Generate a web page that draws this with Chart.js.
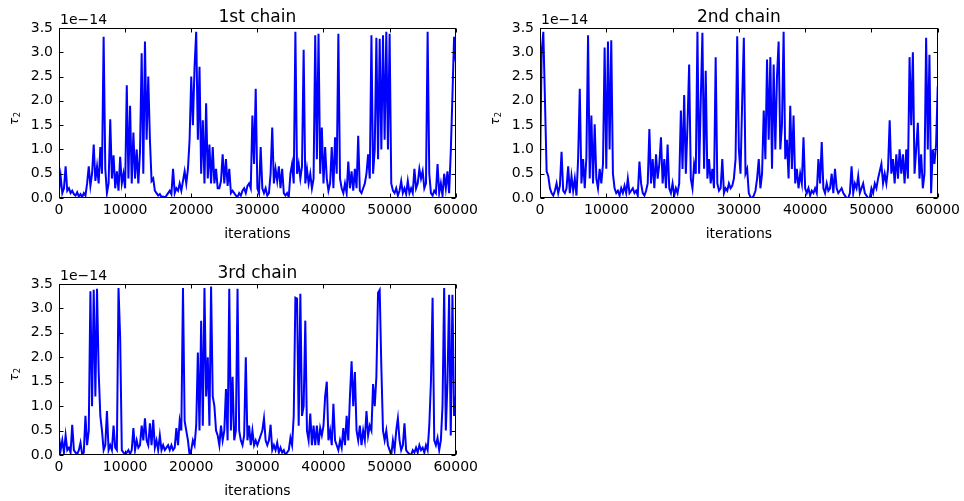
<!DOCTYPE html>
<html>
<head>
<meta charset="utf-8">
<script src="https://cdn.jsdelivr.net/npm/chart.js@4"></script>
<style>
  html, body { margin: 0; padding: 0; background: #fff; }
  #fig { position: relative; width: 964px; height: 501px; overflow: hidden; }
  #fig canvas { position: absolute; }
</style>
</head>
<body>
<div id="fig">
  <canvas id="c1" width="482" height="250" style="left:0;top:0"></canvas>
  <canvas id="c2" width="482" height="250" style="left:482px;top:0"></canvas>
  <canvas id="c3" width="482" height="251" style="left:0;top:250px"></canvas>
</div>
<script>
// Trace of tau_2 (in units of 1e-14), one sample every STEP iterations.
const STEP = 250;

const chain1 = [
  0.15, 0.45, 0.10, 0.20,  0.65, 0.15, 0.20, 0.10,  0.15, 0.08, 0.05, 0.12,
  0.03, 0.08, 0.02, 0.10,  0.05, 0.30, 0.65, 0.25,  0.50, 1.10, 0.35, 0.65,
  0.30, 1.05, 0.50, 3.32,  0.60, 0.10, 0.30, 1.62,  0.40, 0.88, 0.20, 0.55,
  0.15, 0.85, 0.30, 0.50,  0.20, 2.32, 0.40, 1.90,  0.30, 1.35, 0.40, 1.00,
  0.30, 0.95, 2.98, 0.50,  3.22, 1.20, 2.50, 1.20,  0.35, 0.40, 0.15, 0.10,
  0.05, 0.08, 0.02, 0.03,  0.01, 0.05, 0.10, 0.15,  0.08, 0.60, 0.10, 0.20,
  0.15, 0.30, 0.15, 0.35,  0.55, 0.30, 0.60, 1.20,  2.50, 1.50, 2.70, 3.42,
  1.20, 2.70, 0.50, 1.60,  0.30, 1.95, 0.40, 1.10,  0.30, 1.05, 0.30, 0.60,
  0.20, 0.20, 0.35, 0.90,  0.30, 0.80, 0.25, 0.60,  0.10, 0.15, 0.10, 0.05,
  0.02, 0.10, 0.05, 0.15,  0.20, 0.10, 0.25, 0.30,  0.20, 1.70, 0.70, 2.25,
  0.20, 0.10, 1.05, 0.20,  0.10, 0.20, 0.05, 0.10,  0.50, 1.45, 0.30, 0.60,
  0.35, 0.65, 0.20, 0.60,  0.10, 0.05, 0.10, 0.02,  0.50, 0.70, 0.30, 3.42,
  0.50, 0.70, 0.40, 0.65,  3.05, 0.30, 0.60, 0.30,  0.50, 0.20, 0.40, 3.35,
  0.80, 3.38, 0.50, 1.45,  0.30, 1.05, 0.40, 0.15,  0.30, 1.05, 0.20, 1.25,
  0.50, 3.38, 0.40, 0.20,  0.10, 0.30, 0.10, 0.75,  0.20, 0.55, 0.15, 0.60,
  0.20, 1.28, 0.15, 0.10,  0.20, 0.30, 0.50, 0.90,  0.40, 3.35, 0.50, 1.00,
  3.30, 0.80, 3.28, 1.00,  3.35, 1.20, 3.42, 1.00,  3.38, 0.30, 0.15, 0.10,
  0.20, 0.05, 0.15, 0.35,  0.10, 0.20, 0.08, 0.35,  0.10, 0.20, 0.10, 0.60,
  0.20, 0.30, 0.60, 0.40,  0.55, 0.20, 0.30, 3.42,  0.50, 0.10, 0.05, 0.15,
  0.10, 0.70, 0.10, 0.30,  0.05, 0.50, 0.20, 0.55,  0.10, 0.95, 2.10, 3.32,
  2.80
];

const chain2 = [
  0.50, 3.00, 3.42, 2.00,  0.55, 0.45, 0.20, 0.10,  0.05, 0.15, 0.30, 0.10,
  0.25, 0.95, 0.15, 0.10,  0.20, 0.65, 0.10, 0.45,  0.15, 0.40, 0.05, 0.80,
  2.25, 0.30, 0.80, 0.20,  0.85, 3.35, 0.40, 1.70,  0.30, 1.52, 0.40, 0.20,
  0.60, 0.30, 0.70, 3.10,  0.60, 3.22, 1.00, 3.25,  0.50, 0.20, 0.10, 0.15,
  0.05, 0.20, 0.10, 0.25,  0.10, 0.40, 0.10, 0.15,  0.20, 0.10, 0.15, 0.05,
  0.75, 0.30, 0.10, 0.05,  0.15, 0.30, 1.42, 0.30,  0.80, 0.20, 0.90, 0.40,
  0.70, 1.25, 0.30, 0.80,  0.20, 1.10, 0.20, 0.10,  0.30, 0.05, 0.20, 0.10,
  0.30, 1.80, 0.60, 2.12,  0.50, 1.50, 2.75, 0.40,  0.20, 0.70, 0.50, 3.42,
  0.50, 2.00, 3.40, 0.60,  2.62, 0.40, 0.80, 0.30,  0.60, 0.20, 2.90, 0.30,
  0.15, 0.20, 0.80, 0.10,  0.20, 0.15, 0.30, 0.20,  0.25, 0.40, 0.80, 3.33,
  1.00, 0.50, 2.00, 3.30,  0.50, 0.60, 0.10, 0.02,  0.00, 0.05, 0.15, 0.40,
  0.80, 0.20, 0.50, 1.80,  0.80, 2.85, 1.20, 2.90,  0.60, 2.75, 1.00, 2.50,
  3.22, 1.00, 1.50, 3.42,  0.80, 1.20, 0.40, 1.90,  0.60, 1.70, 0.30, 0.60,
  0.20, 0.50, 0.30, 1.25,  0.20, 0.10, 0.20, 0.05,  0.15, 0.10, 0.20, 0.10,
  0.80, 0.30, 1.15, 0.20,  0.10, 0.30, 0.15, 0.20,  0.50, 0.10, 0.60, 0.20,
  0.10, 0.15, 0.20, 0.10,  0.05, 0.00, 0.00, 0.10,  0.65, 0.10, 0.30, 0.20,
  0.45, 0.10, 0.20, 0.30,  0.10, 0.05, 0.00, 0.00,  0.20, 0.10, 0.30, 0.20,
  0.40, 0.55, 0.70, 0.30,  0.50, 0.30, 0.60, 1.60,  0.50, 0.80, 0.30, 0.90,
  0.40, 1.00, 0.50, 0.90,  0.30, 1.00, 0.40, 2.90,  1.50, 3.00, 0.50, 1.00,
  1.55, 0.40, 0.90, 0.20,  0.50, 3.30, 1.00, 2.95,  0.10, 1.00, 0.70, 1.10,
  2.30
];

const chain3 = [
  0.38, 0.10, 0.30, 0.05,  0.40, 0.10, 0.15, 0.05,  0.62, 0.10, 0.05, 0.02,
  0.10, 0.25, 0.02, 0.05,  0.80, 0.20, 0.50, 3.35,  1.00, 3.38, 1.20, 3.40,
  1.70, 0.80, 0.50, 0.10,  0.20, 0.90, 0.10, 0.20,  0.10, 0.60, 0.15, 0.10,
  3.42, 2.40, 0.10, 0.05,  0.02, 0.05, 0.10, 0.02,  0.10, 0.55, 0.10, 0.30,
  0.15, 0.20, 0.60, 0.30,  0.75, 0.30, 0.20, 0.65,  0.20, 0.72, 0.15, 0.30,
  0.10, 0.40, 0.10, 0.20,  0.10, 0.15, 0.20, 0.10,  0.20, 0.10, 0.15, 0.55,
  0.20, 0.70, 0.50, 3.42,  0.70, 0.50, 0.30, 0.00,  0.10, 0.30, 0.20, 0.60,
  2.10, 0.50, 2.75, 0.60,  3.42, 1.20, 2.00, 0.60,  3.45, 1.20, 1.00, 0.50,
  0.40, 0.20, 0.60, 0.30,  0.50, 1.35, 0.30, 3.40,  0.50, 1.60, 0.30, 0.50,
  3.40, 0.50, 0.30, 0.20,  0.40, 2.00, 0.30, 0.60,  0.20, 0.50, 0.20, 0.30,
  0.20, 0.30, 0.40, 0.50,  0.75, 0.30, 0.20, 0.30,  0.62, 0.10, 0.20, 0.10,
  0.25, 0.05, 0.15, 0.05,  0.10, 0.00, 0.05, 0.10,  0.35, 0.20, 0.80, 3.22,
  3.20, 0.60, 3.30, 0.80,  1.00, 2.75, 0.50, 0.30,  0.85, 0.20, 0.60, 0.20,
  0.60, 0.20, 0.55, 0.40,  0.60, 1.20, 1.50, 0.30,  0.50, 0.20, 1.05, 0.30,
  0.20, 0.10, 0.30, 0.15,  0.55, 0.20, 0.80, 0.30,  1.20, 1.92, 1.00, 1.70,
  0.50, 0.30, 0.60, 0.20,  0.50, 0.30, 0.90, 0.40,  0.60, 0.50, 1.45, 1.00,
  1.60, 3.32, 3.38, 1.80,  0.50, 0.30, 0.50, 0.20,  0.10, 0.00, 0.30, 0.10,
  0.50, 0.75, 0.30, 0.10,  0.20, 0.65, 0.10, 0.05,  0.02, 0.00, 0.10, 0.05,
  0.15, 0.05, 0.20, 0.10,  0.15, 0.05, 0.20, 0.10,  0.60, 1.50, 3.22, 0.30,
  0.20, 0.35, 0.10, 0.30,  1.00, 3.42, 0.50, 1.50,  3.28, 0.40, 3.28, 0.80,
  1.20
];

const panelTitles = ['1st chain', '2nd chain', '3rd chain'];
const xTickValues = [0, 10000, 20000, 30000, 40000, 50000, 60000];
const yTickValues = [0.0, 0.5, 1.0, 1.5, 2.0, 2.5, 3.0, 3.5];
const offsetLabel = '1e\u221214';
const xAxisLabel = 'iterations';
const yAxisSymbol = '\u03C4';
const yAxisSubscript = '2';

const FONT = '"DejaVu Sans", "Liberation Sans", sans-serif';

// Matplotlib-style frame: box, inward ticks on all sides, title, offset text, axis labels.
const mplFrame = {
  id: 'mplFrame',
  afterDraw(chart, args, opts) {
    const { ctx, chartArea: a, scales } = chart;
    const x = scales.x, y = scales.y;
    const L = Math.round(a.left) + 0.5, R = Math.round(a.right) - 0.5;
    const T = Math.round(a.top) + 0.5, B = Math.round(a.bottom) - 0.5;
    ctx.save();
    ctx.strokeStyle = '#000';
    ctx.lineWidth = 1;
    ctx.beginPath();
    y.ticks.forEach(t => {
      const py = Math.round(y.getPixelForValue(t.value)) + 0.5;
      ctx.moveTo(L, py); ctx.lineTo(L + 4, py);
      ctx.moveTo(R, py); ctx.lineTo(R - 4, py);
    });
    x.ticks.forEach(t => {
      const px = Math.round(x.getPixelForValue(t.value)) + 0.5;
      ctx.moveTo(px, B); ctx.lineTo(px, B - 4);
      ctx.moveTo(px, T); ctx.lineTo(px, T + 4);
    });
    ctx.stroke();
    ctx.strokeRect(L, T, R - L, B - T);

    ctx.fillStyle = '#000';
    ctx.textBaseline = 'alphabetic';
    const cx = (a.left + a.right) / 2;

    ctx.font = '17px ' + FONT;
    ctx.textAlign = 'center';
    ctx.fillText(opts.title, cx, a.top - 6);

    ctx.font = '14px ' + FONT;
    ctx.textAlign = 'left';
    ctx.fillText(offsetLabel, a.left + 1, a.top - 4.5);

    ctx.textAlign = 'center';
    ctx.fillText(xAxisLabel, cx, a.bottom + 40);

    ctx.translate(a.left - 41.5, a.top + 97);
    ctx.rotate(-Math.PI / 2);
    ctx.textAlign = 'left';
    ctx.font = 'italic 12px ' + FONT;
    ctx.fillText(yAxisSymbol, 0, 0);
    const w = ctx.measureText(yAxisSymbol).width;
    ctx.font = '8.5px ' + FONT;
    ctx.fillText(yAxisSubscript, w + 0.5, 2.5);
    ctx.restore();
  }
};

function makePanel(id, values, title, pad) {
  const points = values.map((v, i) => ({ x: i * STEP, y: v }));
  return new Chart(document.getElementById(id), {
    type: 'line',
    data: {
      datasets: [{
        data: points,
        borderColor: '#0000ff',
        borderWidth: 2,
        borderJoinStyle: 'miter',
        pointRadius: 0,
        fill: false,
        tension: 0
      }]
    },
    options: {
      responsive: false,
      animation: false,
      devicePixelRatio: 1,
      events: [],
      layout: { padding: pad },
      plugins: {
        legend: { display: false },
        tooltip: { enabled: false },
        title: { display: false },
        mplFrame: { title }
      },
      scales: {
        x: {
          type: 'linear',
          min: 0, max: 60000,
          grid: { display: false, drawTicks: false },
          border: { display: false },
          afterFit: s => { s.height = 30; },
          afterBuildTicks: s => { s.ticks = xTickValues.map(v => ({ value: v })); },
          ticks: {
            autoSkip: false,
            maxRotation: 0,
            padding: 4,
            color: '#000',
            font: { family: FONT, size: 14 },
            callback: v => String(v)
          }
        },
        y: {
          min: 0, max: 3.5,
          grid: { display: false, drawTicks: false },
          border: { display: false },
          afterFit: s => { s.width = 48; },
          afterBuildTicks: s => { s.ticks = yTickValues.map(v => ({ value: v })); },
          ticks: {
            padding: 6,
            color: '#000',
            font: { family: FONT, size: 14 },
            callback: v => Number(v).toFixed(1)
          }
        }
      }
    },
    plugins: [mplFrame]
  });
}

makePanel('c1', chain1, panelTitles[0], { left: 11, right: 23, top: 28, bottom: 22 });
makePanel('c2', chain2, panelTitles[1], { left: 10, right: 24, top: 28, bottom: 22 });
makePanel('c3', chain3, panelTitles[2], { left: 11, right: 23, top: 34, bottom: 16 });
</script>
</body>
</html>
